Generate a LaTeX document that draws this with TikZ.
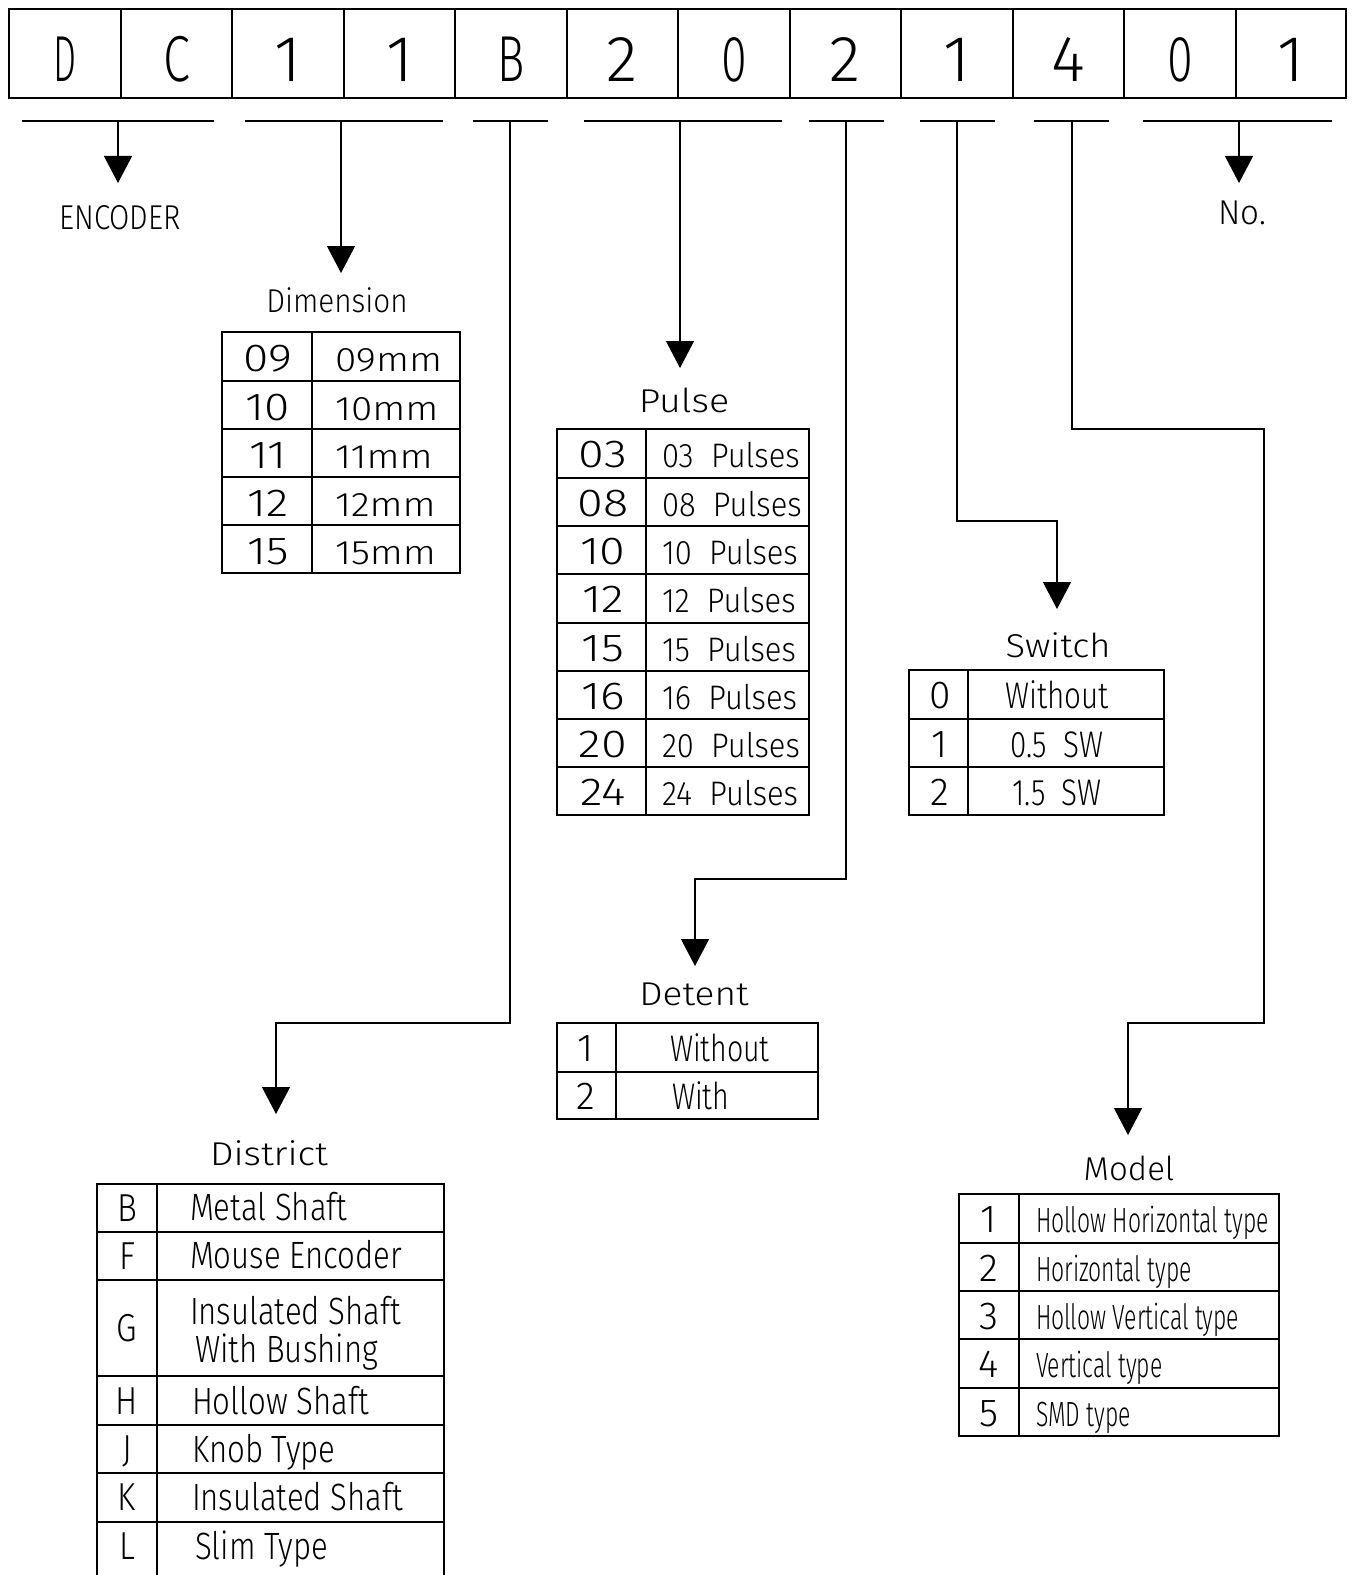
\documentclass[tikz,border=0pt]{standalone}
\usepackage{fontspec}
\setsansfont{Fira Sans Light}
\usetikzlibrary{arrows.meta}
\newcommand\sx[2]{\scalebox{#1}[1]{#2}}
\begin{document}
\begin{tikzpicture}[x=1bp,y=-1bp,line width=1.2bp,
  every node/.style={inner sep=0pt,outer sep=0pt},
  code/.style={anchor=base,font=\sffamily\fontsize{65bp}{65bp}\selectfont},
  ttl/.style={anchor=base,font=\sffamily\fontsize{33bp}{33bp}\selectfont},
  key/.style={anchor=base,font=\sffamily\fontsize{39bp}{39bp}\selectfont},
  dsc/.style={anchor=base west,font=\sffamily\fontsize{34bp}{34bp}\selectfont},
  cnd/.style={anchor=base west,font=\sffamily\fontsize{37bp}{37bp}\selectfont},
  dis/.style={anchor=base west,font=\sffamily\fontsize{38bp}{33bp}\selectfont},
  mdl/.style={anchor=base west,font=\sffamily\fontsize{35bp}{35bp}\selectfont},
  arr/.style={-{Triangle[width=28bp,length=27bp]}}]
\useasboundingbox (0,0) rectangle (1355,1575);

% ---------- code strip ----------
\draw (9,9) rectangle (1346,98);
\foreach \xx in {121,232,344,455,567,678,790,901,1013,1124,1236}
  \draw (\xx,9) -- (\xx,98);
\foreach \i/\cx/\ch/\s in {1/65/D/.56,2/176.5/C/.75,3/288/1/1,4/399.5/1/1,5/511/B/.7,6/622.5/2/1,
   7/734/0/.72,8/845.5/2/1,9/957/1/1,10/1068.5/4/1,11/1180/0/.72,12/1291/1/1}
  \node[code] (c\i) at (\cx,82) {\sx{\s}{\ch}};

% ---------- bars ----------
\foreach \a/\b in {22/214,245/443,473/548,584/782,809/884,920/995,1034/1109,1143/1332}
  \draw (\a,121) -- (\b,121);
\coordinate (bE) at (118,121);
\coordinate (bDim) at (341,121);
\coordinate (bB) at (510,121);
\coordinate (bP) at (680,121);
\coordinate (bDet) at (846,121);
\coordinate (bS) at (957,121);
\coordinate (bM) at (1072,121);
\coordinate (bN) at (1239,121);

% ---------- titles ----------
\node[ttl,font=\sffamily\fontsize{34.5bp}{34.5bp}\selectfont] (tE) at (120,229) {\sx{.85}{ENCODER}};
\node[ttl,font=\sffamily\fontsize{34.5bp}{34.5bp}\selectfont] (tN) at (1242,224) {\sx{.96}{No.}};
\node[ttl] (tDim) at (337,312) {\sx{.9}{Dimension}};
\node[ttl] (tP) at (684,412) {\sx{1.14}{Pulse}};
\node[ttl] (tS) at (1058,657) {\sx{1.1}{Switch}};
\node[ttl] (tDet) at (694,1005) {\sx{1.12}{Detent}};
\node[ttl] (tDis) at (269,1165) {\sx{1.13}{District}};
\node[ttl] (tM) at (1129,1180) {\sx{1.0}{Model}};

% arrow tips
\coordinate (aE) at (118,183);
\coordinate (aN) at (1239,183);
\coordinate (aDim) at (341,273);
\coordinate (aP) at (680,368);
\coordinate (aS) at (1057,609);
\coordinate (aDet) at (695,966);
\coordinate (aDis) at (276,1114);
\coordinate (aM) at (1128,1135);

% ---------- connectors ----------
\draw[arr] (bE) -- (aE);
\draw[arr] (bN) -- (aN);
\draw[arr] (bDim) -- (aDim);
\draw[arr] (bP) -- (aP);
\coordinate (kB) at (510,1023);
\draw[arr] (bB) -- (kB) -| (aDis);
\coordinate (kDet) at (846,879);
\draw[arr] (bDet) -- (kDet) -| (aDet);
\coordinate (kS) at (957,521);
\draw[arr] (bS) -- (kS) -| (aS);
\coordinate (kM1) at (1072,429);
\coordinate (kM2) at (1264,429);
\coordinate (kM3) at (1264,1023);
\draw[arr] (bM) -- (kM1) -- (kM2) -- (kM3) -| (aM);

% ---------- Dimension table ----------
\draw (222,332) rectangle (460,573);
\draw (312,332) -- (312,573);
\foreach \yy in {381,429,477,525} \draw (222,\yy) -- (460,\yy);
\foreach \i/\t/\k/\d in {1/332/09/09mm,2/381/10/10mm,3/429/11/11mm,4/477/12/12mm,5/525/15/15mm}{
  \node[key] (dk\i) at (268,\t+39) {\sx{1.18}{\k}};
  \node[dsc] (dd\i) at (335,\t+39) {\sx{1.14}{\d}};
}

% ---------- Pulse table ----------
\draw (557,429) rectangle (809,815);
\draw (646,429) -- (646,815);
\foreach \yy in {478,526,574,623,671,719,767} \draw (557,\yy) -- (809,\yy);
\foreach \i/\t/\k in {1/429/03,2/478/08,3/526/10,4/574/12,5/623/15,6/671/16,7/719/20,8/767/24}{
  \node[key] (pk\i) at (603,\t+38) {\sx{1.2}{\k}};
  \node[dsc] (pd\i) at (662,\t+38) {\sx{.91}{\k\ \ Pulses}};
}

% ---------- Switch table ----------
\draw (909,670) rectangle (1164,815);
\draw (968,670) -- (968,815);
\foreach \yy in {719,767} \draw (909,\yy) -- (1164,\yy);
\foreach \i/\t/\k/\d in {1/670/0/Without,2/719/1/0.5\ \ SW,3/767/2/1.5\ \ SW}{
  \node[key] (sk\i) at (940,\t+38) {\k};
  \node[cnd,anchor=base] (sd\i) at (1057,\t+38) {\sx{.8}{\d}};
}

% ---------- Detent table ----------
\draw (557,1023) rectangle (818,1119);
\draw (616,1023) -- (616,1119);
\draw (557,1072) -- (818,1072);
\node[key] (ek1) at (586,1061) {1};
\node[cnd] (ed1) at (670,1061) {\sx{.77}{Without}};
\node[key] (ek2) at (586,1109) {2};
\node[cnd] (ed2) at (672,1109) {\sx{.77}{With}};

% ---------- District table ----------
\draw (97,1580) -- (97,1184) -- (444,1184) -- (444,1580);
\draw (157,1184) -- (157,1580);
\foreach \yy in {1232,1280,1376,1425,1473,1522} \draw (97,\yy) -- (444,\yy);
\foreach \i/\b/\k in {1/1221/B,2/1269/F,3/1341/G,4/1414/H,5/1462/J,6/1510/K,7/1559/L}
  \node[key] (rk\i) at (127,\b) {\sx{.85}{\k}};
\node[dis] (rd1) at (190,1220) {\sx{.82}{Metal Shaft}};
\node[dis] (rd2) at (190,1268) {\sx{.82}{Mouse Encoder}};
\node[dis] (rd3) at (190,1324) {\sx{.82}{\begin{tabular}[t]{@{}l@{}}Insulated Shaft\\\,With Bushing\end{tabular}}};
\node[dis] (rd4) at (192,1414) {\sx{.82}{Hollow Shaft}};
\node[dis] (rd5) at (192,1462) {\sx{.82}{Knob Type}};
\node[dis] (rd6) at (192,1510) {\sx{.82}{Insulated Shaft}};
\node[dis] (rd7) at (195,1559) {\sx{.82}{Slim Type}};

% ---------- Model table ----------
\draw (959,1194) rectangle (1279,1436);
\draw (1019,1194) -- (1019,1436);
\foreach \yy in {1243,1291,1339,1388} \draw (959,\yy) -- (1279,\yy);
\foreach \i/\t/\d in {1/1194/Hollow Horizontal type,2/1243/Horizontal type,3/1291/Hollow Vertical type,4/1339/Vertical type,5/1388/SMD type}{
  \node[key] (mk\i) at (989,\t+38) {\i};
  \node[mdl] (md\i) at (1036,\t+38) {\sx{.655}{\d}};
}
\end{tikzpicture}
\end{document}
